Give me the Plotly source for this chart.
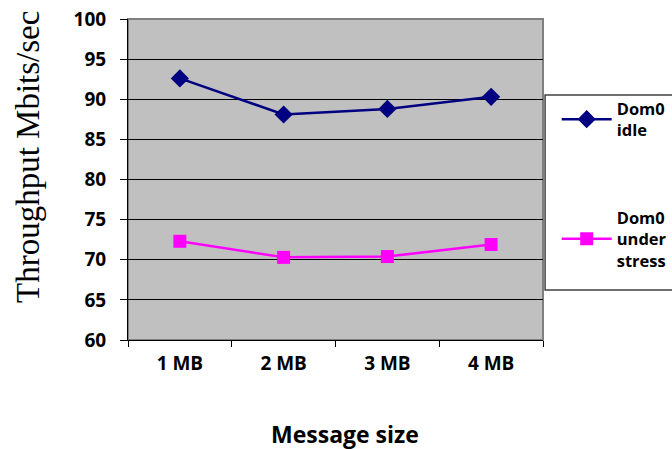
import plotly.graph_objects as go

# Throughput measured for each message size
message_sizes = ["1 MB", "2 MB", "3 MB", "4 MB"]
dom0_idle = [92.6, 88.1, 88.8, 90.3]
dom0_stress = [72.3, 70.3, 70.4, 71.9]
y_ticks = [60, 65, 70, 75, 80, 85, 90, 95, 100]

tick_font = dict(family="Open Sans", size=19, color="black", weight="bold")

fig = go.Figure()
fig.add_trace(go.Scatter(
    x=message_sizes, y=dom0_idle, name="<b>Dom0<br>idle</b>",
    mode="lines+markers", legendgroup="idle",
    line=dict(color="#000080", width=2.5),
    marker=dict(symbol="diamond", size=14, color="#000080"),
))
fig.add_trace(go.Scatter(
    x=message_sizes, y=dom0_stress, name="<b>Dom0<br>under<br>stress</b>",
    mode="lines+markers", legendgroup="stress",
    line=dict(color="#FF00FF", width=2.5),
    marker=dict(symbol="square", size=13, color="#FF00FF"),
))

fig.update_layout(
    width=672, height=449,
    margin=dict(l=128, r=129, t=19, b=109, autoexpand=False),
    paper_bgcolor="white", plot_bgcolor="#C0C0C0",
    showlegend=True,
    legend=dict(
        x=1.033, y=0.775, xanchor="left", yanchor="top",
        bgcolor="rgba(0,0,0,0)", bordercolor="rgba(0,0,0,0)", borderwidth=0,
        font=dict(family="Open Sans", size=16.5, color="black"),
        traceorder="grouped", tracegroupgap=63, itemwidth=50,
    ),
    xaxis=dict(
        type="category", range=[-0.5, 3.5], automargin=False,
        showgrid=False, showline=True, linecolor="black", linewidth=1,
        ticks="outside", tickson="boundaries", ticklen=6, tickcolor="black",
        tickfont=tick_font, ticklabelstandoff=6,
    ),
    yaxis=dict(
        range=[60, 100], tickvals=y_ticks, automargin=False,
        showgrid=True, gridcolor="black", gridwidth=1,
        showline=True, linecolor="black", linewidth=1,
        ticks="outside", ticklen=7, tickcolor="black",
        tickfont=tick_font, ticklabelstandoff=10,
        zeroline=False,
    ),
    shapes=[
        # grey frame around plot area
        dict(type="rect", xref="paper", yref="paper", x0=0, x1=1, y0=0, y1=1,
             line=dict(color="#808080", width=2), layer="below"),
        # legend box (extends past right edge)
        dict(type="rect", xref="paper", yref="paper",
             x0=1.005, x1=1.4, y0=(340 - 290) / 321, y1=(340 - 95) / 321,
             line=dict(color="#404040", width=1.5), layer="below"),
    ],
    annotations=[
        dict(text="Throughput Mbits/sec", textangle=-90, showarrow=False,
             xref="paper", yref="paper", x=(28 - 128) / 415, y=(340 - 157) / 321,
             xanchor="center", yanchor="middle",
             font=dict(family="Liberation Serif", size=33, color="black")),
        dict(text="<b>Message size</b>", showarrow=False,
             xref="paper", yref="paper", x=(345 - 128) / 415, y=(340 - 434) / 321,
             xanchor="center", yanchor="middle",
             font=dict(family="Open Sans", size=23, color="black")),
    ],
)

fig.write_html("out.html")
